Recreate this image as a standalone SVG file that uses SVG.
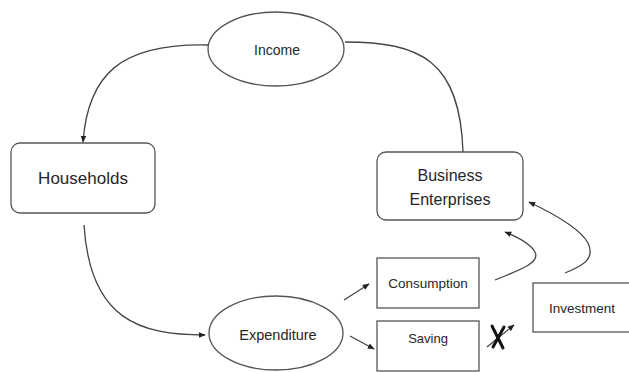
<svg xmlns="http://www.w3.org/2000/svg" width="629" height="372" viewBox="0 0 629 372">
<style>
.node{fill:#fff;stroke:#555;stroke-width:1.3}
.lbl{font-family:"Liberation Sans",Arial,sans-serif;fill:#262626;text-anchor:middle;dominant-baseline:central}
.ln{fill:none;stroke:#444;stroke-width:1.3}
.x{fill:none;stroke:#111;stroke-width:3;stroke-linecap:round}
</style>
<defs>
<marker id="ah" viewBox="0 0 10 10" refX="9" refY="5" markerWidth="7" markerHeight="7" orient="auto" markerUnits="userSpaceOnUse">
<path d="M0,1 L10,5 L0,9 Z" fill="#222"/>
</marker>
</defs>
<rect width="629" height="372" fill="#fff"/>
<g id="connectors">
<path class="ln" d="M208,45 C120,43 88,75 83,142" marker-end="url(#ah)"/>
<path class="ln" d="M345,42 C420,42 460,60 463,152"/>
<path class="ln" d="M84,225 C90,320 140,335 205,335" marker-end="url(#ah)"/>
<path class="ln" d="M344,300 L369,284" marker-end="url(#ah)"/>
<path class="ln" d="M350,336 L374,349" marker-end="url(#ah)"/>
<path class="ln" d="M495,280 C525,268 540,262 535,252 C530,243 515,236 505,232" marker-end="url(#ah)"/>
<path class="ln" d="M565,273 C585,265 595,258 588,243 C580,228 550,212 529,202" marker-end="url(#ah)"/>
<path class="ln" d="M487,347 L514,325" marker-end="url(#ah)"/>
<path class="x" d="M492,326 L503,348 M504,327 L493,347"/>
</g>
<g id="income">
<ellipse class="node" cx="276" cy="49" rx="68" ry="37"/>
<text class="lbl" x="277" y="50" font-size="14">Income</text>
</g>
<g id="households">
<rect class="node" x="11" y="143" width="144" height="70" rx="9"/>
<text class="lbl" x="83" y="178" font-size="17">Households</text>
</g>
<g id="business">
<rect class="node" x="377" y="152" width="146" height="68" rx="9"/>
<text class="lbl" x="450" y="175" font-size="16">Business</text>
<text class="lbl" x="450" y="199" font-size="16">Enterprises</text>
</g>
<g id="expenditure">
<ellipse class="node" cx="276" cy="333" rx="67" ry="37"/>
<text class="lbl" x="278" y="335" font-size="14.5">Expenditure</text>
</g>
<g id="consumption">
<rect class="node" x="377" y="258" width="102" height="50"/>
<text class="lbl" x="428" y="283" font-size="13.5">Consumption</text>
</g>
<g id="saving">
<rect class="node" x="377" y="321" width="102" height="50"/>
<text class="lbl" x="428" y="338" font-size="13">Saving</text>
</g>
<g id="investment">
<rect class="node" x="533" y="283" width="110" height="49"/>
<text class="lbl" x="582" y="308" font-size="13.5">Investment</text>
</g>
</svg>
